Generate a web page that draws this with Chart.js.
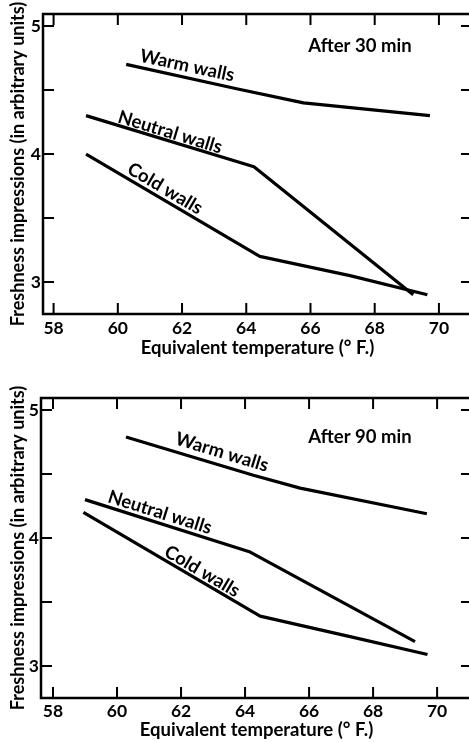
<!DOCTYPE html>
<html>
<head>
<meta charset="utf-8">
<script src="https://cdn.jsdelivr.net/npm/chart.js@4/dist/chart.umd.min.js"></script>
<style>
  html, body { margin: 0; padding: 0; background: #fff; width: 469px; height: 742px; overflow: hidden; }
  .box { position: absolute; left: 0; width: 472px; }
  #b1 { top: 0; height: 362px; }
  #b2 { top: 362px; height: 380px; }
</style>
</head>
<body>
<div class="box" id="b1"><canvas id="c1"></canvas></div>
<div class="box" id="b2"><canvas id="c2"></canvas></div>
<script>
// ---- data ----
const xTickValues = [58, 60, 62, 64, 66, 68, 70];
const yTickMarks = [3, 3.5, 4, 4.5, 5];
const yTickLabels = [3, 4, 5];

// After 30 min
const warm30X = [60.26, 63.70, 65.78, 69.72];
const warm30Y = [4.70, 4.51, 4.40, 4.30];
const neutral30X = [59.01, 64.24, 69.20];
const neutral30Y = [4.30, 3.90, 2.90];
const cold30X = [59.01, 64.42, 67.23, 69.64];
const cold30Y = [4.00, 3.20, 3.05, 2.90];

// After 90 min
const warm90X = [60.28, 64.26, 65.72, 69.68];
const warm90Y = [4.79, 4.49, 4.39, 4.19];
const neutral90X = [59.00, 64.16, 69.31];
const neutral90Y = [4.30, 3.89, 3.19];
const cold90X = [58.95, 64.47, 67.28, 69.70];
const cold90Y = [4.20, 3.39, 3.23, 3.09];

const seriesNames = ["Warm walls", "Neutral walls", "Cold walls"];
const xTitle = "Equivalent temperature (\u00B0 F.)";
const yTitle = "Freshness impressions (in arbitrary units)";
const panelTitles = ["After 30 min", "After 90 min"];

const FONT = "Lato, 'Open Sans', sans-serif";
const WEIGHT = 'bold';
const FS_TICK = 17.5;
const FS_XTITLE = 18.5;
const FS_YTITLE = 18;
const FS_LABEL = 18.5;

function pts(xs, ys) { return xs.map((x, i) => ({ x: x, y: ys[i] })); }

const framePlugin = {
  id: 'frameTicks',
  afterDatasetsDraw(chart, args, opts) {
    const { ctx, chartArea: a, scales: { x, y } } = chart;
    ctx.save();
    ctx.strokeStyle = '#000';
    ctx.lineWidth = 2.5;
    ctx.strokeRect(a.left, a.top, a.right - a.left, a.bottom - a.top);
    ctx.lineWidth = 2;
    const L = 11;
    ctx.beginPath();
    xTickValues.forEach(v => {
      const px = x.getPixelForValue(v);
      ctx.moveTo(px, a.bottom); ctx.lineTo(px, a.bottom - L);
      ctx.moveTo(px, a.top); ctx.lineTo(px, a.top + L);
    });
    yTickMarks.forEach(v => {
      const py = y.getPixelForValue(v);
      ctx.moveTo(a.left, py); ctx.lineTo(a.left + L, py);
      ctx.moveTo(a.right, py); ctx.lineTo(a.right - L, py);
    });
    ctx.stroke();
    // text labels
    ctx.fillStyle = '#000';
    ctx.textAlign = 'center';
    ctx.textBaseline = 'middle';
    (opts.labels || []).forEach(l => {
      ctx.save();
      ctx.font = WEIGHT + ' ' + FS_LABEL + 'px ' + FONT;
      ctx.translate(x.getPixelForValue(l.x), y.getPixelForValue(l.y));
      ctx.rotate((l.angle || 0) * Math.PI / 180);
      ctx.fillText(l.text, 0, 0);
      ctx.restore();
    });
    ctx.restore();
  }
};

function makeChart(id, cfg) {
  const ds = (data) => ({
    data: data, borderColor: '#000', borderWidth: 3.2, pointRadius: 0,
    fill: false, tension: 0, borderJoinStyle: 'round', borderCapStyle: 'butt'
  });
  const ft = { family: FONT, size: FS_TICK, weight: WEIGHT };
  const fx = { family: FONT, size: FS_XTITLE, weight: WEIGHT };
  const fy = { family: FONT, size: FS_YTITLE, weight: WEIGHT };
  return new Chart(document.getElementById(id), {
    type: 'line',
    data: { datasets: cfg.series.map(s => ds(s)) },
    plugins: [framePlugin],
    options: {
      responsive: true,
      maintainAspectRatio: false,
      animation: false,
      layout: { padding: { top: cfg.top, right: 0, left: 0, bottom: 0 } },
      plugins: {
        legend: { display: false },
        tooltip: { enabled: false },
        frameTicks: { labels: cfg.labels }
      },
      scales: {
        x: {
          type: 'linear', min: cfg.xmin, max: cfg.xmax,
          grid: { display: false, drawTicks: false },
          border: { display: false },
          afterBuildTicks: s => { s.ticks = xTickValues.map(v => ({ value: v })); },
          afterFit: s => { s.height = cfg.xh; },
          ticks: { color: '#000', padding: cfg.xpad, font: ft, maxRotation: 0, autoSkip: false },
          title: { display: true, text: xTitle, color: '#000', font: fx, padding: { top: 0, bottom: cfg.xtpad } }
        },
        y: {
          type: 'linear', min: 2.75, max: 5.094,
          grid: { display: false, drawTicks: false },
          border: { display: false },
          afterBuildTicks: s => { s.ticks = yTickLabels.map(v => ({ value: v })); },
          afterFit: s => { s.width = cfg.yw; },
          ticks: { color: '#000', padding: 2, font: ft },
          title: { display: true, text: yTitle, color: '#000', font: fy, padding: { top: 7, bottom: 0 } }
        }
      }
    }
  });
}

makeChart('c1', {
  top: 14, yw: 43, xh: 48, xpad: 4, xtpad: 3, xmin: 57.67, xmax: 71.03,
  series: [pts(warm30X, warm30Y), pts(neutral30X, neutral30Y), pts(cold30X, cold30Y)],
  labels: [
    { text: seriesNames[0], x: 62.16, y: 4.69, angle: 12 },
    { text: seriesNames[1], x: 61.63, y: 4.17, angle: 17 },
    { text: seriesNames[2], x: 61.47, y: 3.73, angle: 30.5 },
    { text: panelTitles[0], x: 67.54, y: 4.84, angle: 0 }
  ]
});

makeChart('c2', {
  top: 36, yw: 41, xh: 44, xpad: 3, xtpad: 1, xmin: 57.625, xmax: 71.09,
  series: [pts(warm90X, warm90Y), pts(neutral90X, neutral90Y), pts(cold90X, cold90Y)],
  labels: [
    { text: seriesNames[0], x: 63.28, y: 4.67, angle: 16.8 },
    { text: seriesNames[1], x: 61.34, y: 4.20, angle: 17.4 },
    { text: seriesNames[2], x: 62.66, y: 3.74, angle: 30.5 },
    { text: panelTitles[1], x: 67.59, y: 4.79, angle: 0 }
  ]
});
</script>
</body>
</html>
